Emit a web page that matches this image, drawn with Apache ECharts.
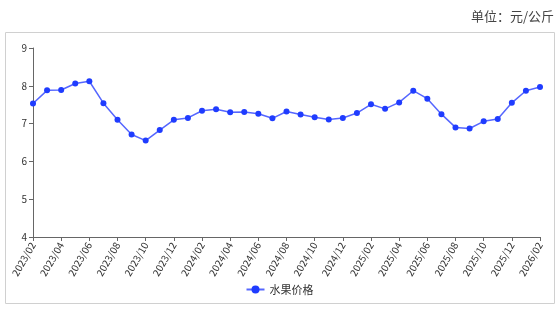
<!DOCTYPE html>
<html>
<head>
<meta charset="utf-8">
<script src="https://cdn.jsdelivr.net/npm/echarts@6/dist/echarts.min.js"></script>
<style>
html,body{margin:0;padding:0;background:#fff;}
#c{width:559px;height:309px;}
</style>
</head>
<body>
<div id="c"></div>
<script>
const categories = ["2023/02","2023/03","2023/04","2023/05","2023/06","2023/07","2023/08","2023/09","2023/10","2023/11","2023/12","2024/01","2024/02","2024/03","2024/04","2024/05","2024/06","2024/07","2024/08","2024/09","2024/10","2024/11","2024/12","2025/01","2025/02","2025/03","2025/04","2025/05","2025/06","2025/07","2025/08","2025/09","2025/10","2025/11","2025/12","2026/01","2026/02"];
const fruitPrice = [7.53,7.88,7.89,8.06,8.12,7.54,7.10,6.71,6.55,6.83,7.10,7.15,7.34,7.38,7.30,7.31,7.26,7.14,7.32,7.24,7.17,7.11,7.15,7.28,7.51,7.39,7.56,7.87,7.66,7.25,6.90,6.87,7.06,7.12,7.55,7.87,7.97];
const seriesName = "水果价格";
const unitText = "单位：元/公斤";

const font = "'Noto Sans CJK SC', 'Noto Sans', sans-serif";
const chart = echarts.init(document.getElementById('c'));
chart.setOption({
  animation: false,
  textStyle: { fontFamily: font },
  title: {
    text: unitText,
    right: 0,
    top: 5,
    textStyle: { fontSize: 13, fontWeight: 'normal', color: '#444', fontFamily: font }
  },
  graphic: [{
    type: 'rect',
    shape: { x: 5.5, y: 32.5, width: 549, height: 271 },
    style: { fill: 'none', stroke: '#d0d0d0', lineWidth: 1 },
    silent: true, z: -1
  }],
  legend: {
    data: [seriesName],
    bottom: 9,
    left: 'center',
    itemWidth: 18,
    itemHeight: 10,
    itemGap: 5,
    textStyle: { fontSize: 11, color: '#333' }
  },
  grid: { left: 33, right: 19, top: 48, bottom: 72, containLabel: false },
  xAxis: {
    type: 'category',
    data: categories,
    boundaryGap: false,
    axisLine: { show: true, lineStyle: { color: '#666', width: 1 } },
    axisTick: { show: true, interval: 1, length: 4, lineStyle: { color: '#666' } },
    axisLabel: { interval: 1, rotate: 60, fontSize: 10, color: '#333', margin: 6 },
    splitLine: { show: false }
  },
  yAxis: {
    type: 'value',
    min: 4, max: 9, interval: 1,
    axisLine: { show: true, lineStyle: { color: '#666', width: 1 } },
    axisTick: { show: true, length: 4, lineStyle: { color: '#666' } },
    axisLabel: { fontSize: 10, color: '#333', margin: 6 },
    splitLine: { show: false }
  },
  series: [{
    name: seriesName,
    type: 'line',
    data: fruitPrice,
    symbol: 'circle',
    symbolSize: 6,
    showAllSymbol: true,
    lineStyle: { color: '#5566ff', width: 1.5 },
    itemStyle: { color: '#1f3cff' }
  }]
});
</script>
</body>
</html>
